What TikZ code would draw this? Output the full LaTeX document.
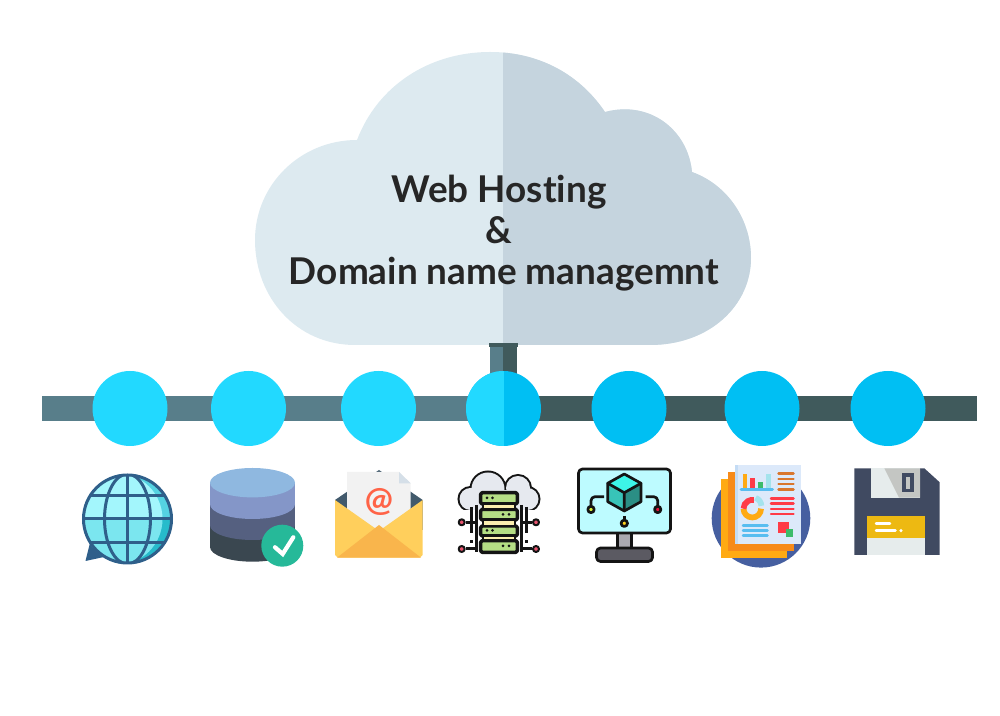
\documentclass[tikz,border=0pt]{standalone}
\usepackage{fontspec}
\setmainfont[Ligatures=NoCommon]{Lato}
\definecolor{cloudlight}{RGB}{221,234,240}
\definecolor{clouddark}{RGB}{197,212,222}
\definecolor{buslight}{RGB}{88,126,138}
\definecolor{busdark}{RGB}{64,90,92}
\definecolor{hublight}{RGB}{34,217,255}
\definecolor{hubdark}{RGB}{0,191,243}
\definecolor{ink}{RGB}{38,38,38}
\definecolor{wire}{RGB}{20,20,20}
\definecolor{globeline}{RGB}{47,95,138}
\definecolor{globehi}{RGB}{163,246,252}
\definecolor{globelo}{RGB}{123,230,239}
\definecolor{crescenthi}{RGB}{85,211,226}
\definecolor{crescentlo}{RGB}{38,187,203}
\definecolor{dbtop}{RGB}{143,184,224}
\definecolor{dbone}{RGB}{132,150,200}
\definecolor{dbtwo}{RGB}{85,96,128}
\definecolor{dbthree}{RGB}{58,71,80}
\definecolor{badge}{RGB}{38,185,153}
\definecolor{flapdark}{RGB}{66,90,108}
\definecolor{letter}{RGB}{242,242,242}
\definecolor{letterfold}{RGB}{213,223,232}
\definecolor{atred}{RGB}{255,99,71}
\definecolor{envfront}{RGB}{255,207,92}
\definecolor{envflap}{RGB}{249,181,76}
\definecolor{cloudicon}{RGB}{230,233,239}
\definecolor{rackgreen}{RGB}{181,222,133}
\definecolor{rackcream}{RGB}{251,239,176}
\definecolor{ledred}{RGB}{232,84,111}
\definecolor{screen}{RGB}{189,251,255}
\definecolor{standgrey}{RGB}{170,169,176}
\definecolor{basegrey}{RGB}{91,90,98}
\definecolor{cubetop}{RGB}{61,245,232}
\definecolor{cubeleft}{RGB}{56,196,184}
\definecolor{cuberight}{RGB}{43,143,133}
\definecolor{ledlime}{RGB}{216,240,58}
\definecolor{ledcrimson}{RGB}{232,18,58}
\definecolor{ledyellow}{RGB}{255,210,30}
\definecolor{disc}{RGB}{70,95,160}
\definecolor{sheetamber}{RGB}{255,170,19}
\definecolor{sheetorange}{RGB}{247,139,26}
\definecolor{sheetpage}{RGB}{220,233,250}
\definecolor{sheetstrip}{RGB}{196,220,245}
\definecolor{sheetblue}{RGB}{88,189,240}
\definecolor{sheetred}{RGB}{255,59,71}
\definecolor{sheetbrown}{RGB}{217,118,45}
\definecolor{sheetgreen}{RGB}{60,187,106}
\definecolor{sheetteal}{RGB}{164,227,236}
\definecolor{slate}{RGB}{64,74,97}
\definecolor{shutter}{RGB}{230,236,236}
\definecolor{shuttershade}{RGB}{196,198,195}
\definecolor{labelgold}{RGB}{237,185,18}
\usetikzlibrary{backgrounds}
\tikzset{
  hub/.style={circle, minimum size=7.5mm, inner sep=0pt, outer sep=0pt, fill=hublight},
  busline/.style={line width=2.5mm},
  titletext/.style={font=\bfseries\fontsize{10.5pt}{11.7pt}\selectfont, text=ink, inner sep=0pt, anchor=base},
  icon/.style={line width=0.27mm, draw=wire, line join=round},
  sline/.style={line width=0.42mm, line cap=round},
  gline/.style={line width=0.3mm, globeline}
}
\def\cloudpath{(355,345) .. controls (297,345) and (255,298) .. (255,240)
  .. controls (255,185) and (300,140) .. (357,140)
  .. controls (378,85) and (430,52) .. (490,52)
  .. controls (540,52) and (580,75) .. (605,112)
  .. controls (650,100) and (688,130) .. (692,172)
  .. controls (728,185) and (751,220) .. (751,258)
  .. controls (751,305) and (710,345) .. (650,345) -- cycle}
\begin{document}
\begin{tikzpicture}[x=0.1mm,y=-0.1mm]
  \useasboundingbox (0,0) rectangle (1000,716);
  % cloud
  \fill[cloudlight] \cloudpath;
  \begin{scope}
    \clip (503,0) rectangle (800,400);
    \fill[clouddark] \cloudpath;
  \end{scope}
  \node[titletext] (title1) at (499,203) {Web Hosting};
  \node[titletext] (title2) at (499,244) {\&};
  \node[titletext] (title3) at (504,285) {Domain name managemnt};
  % stem
  \fill[buslight] (490,345) rectangle (503,400);
  \fill[busdark] (503,345) rectangle (517,400);
  \fill[busdark] (489,343) rectangle (518,347);
  % hubs and bus
  \coordinate (busstart) at (42,408.5);
  \coordinate (busend) at (977,408.5);
  \node[hub] (hub1) at (130,408.5) {};
  \node[hub] (hub2) at (248.5,408.5) {};
  \node[hub] (hub3) at (378.5,408.5) {};
  \node[hub, fill=hubdark, path picture={\fill[hublight] (path picture bounding box.south west) rectangle (path picture bounding box.north);}] (hub4) at (503.5,408.5) {};
  \node[hub, fill=hubdark] (hub5) at (629,408.5) {};
  \node[hub, fill=hubdark] (hub6) at (762,408.5) {};
  \node[hub, fill=hubdark] (hub7) at (888,408.5) {};
  \begin{scope}[on background layer]
    \draw[busline, buslight] (busstart) -- (hub1.center);
    \draw[busline, buslight] (hub1.center) -- (hub2.center);
    \draw[busline, buslight] (hub2.center) -- (hub3.center);
    \draw[busline, buslight] (hub3.center) -- (hub4.center);
    \draw[busline, busdark] (hub4.center) -- (hub5.center);
    \draw[busline, busdark] (hub5.center) -- (hub6.center);
    \draw[busline, busdark] (hub6.center) -- (hub7.center);
    \draw[busline, busdark] (hub7.center) -- (busend);
  \end{scope}
  % globe
  \fill[globeline] (90,543) -- (85.5,561) -- (104,557) -- cycle;
  \begin{scope}
    \clip (127.5,519) circle (45);
    \fill[crescenthi] (80,470) rectangle (175,519);
    \fill[crescentlo] (80,519) rectangle (175,570);
    \begin{scope}
      \clip (116.5,519) circle (46);
      \fill[globehi] (70,470) rectangle (175,519);
      \fill[globelo] (70,519) rectangle (175,570);
    \end{scope}
    \draw[gline] (127.5,519) ellipse (23 and 45);
    \draw[gline] (127.5,470) -- (127.5,570);
    \draw[gline] (80,495.7) -- (175,495.7);
    \draw[gline] (80,519) -- (175,519);
    \draw[gline] (80,542.3) -- (175,542.3);
  \end{scope}
  \draw[gline] (127.5,519) circle (44);
  % database
  \fill[dbthree] (252.5,547) ellipse (42.5 and 14.7);
  \fill[dbthree] (210,525) rectangle (295,547);
  \fill[dbtwo] (252.5,525.3) ellipse (42.5 and 14.7);
  \fill[dbtwo] (210,504) rectangle (295,525.3);
  \fill[dbone] (252.5,504.3) ellipse (42.5 and 14.7);
  \fill[dbone] (210,483) rectangle (295,504.3);
  \fill[dbtop] (252.5,482.7) ellipse (42.5 and 14.7);
  \fill[badge] (282.3,545.7) circle (21);
  \draw[sline, white] (275,547.3) -- (282.7,554) -- (293.3,537.3);
  % envelope
  \fill[flapdark] (335,500) -- (379,470) -- (422.7,500) -- (422.7,530) -- (335,530) -- cycle;
  \fill[letter] (347,472) -- (399,472) -- (410.7,483.3) -- (410.7,531) -- (347,531) -- cycle;
  \fill[letterfold] (399,472) -- (410.7,483.3) -- (399,483.3) -- cycle;
  \node[font=\bfseries\fontsize{9.5pt}{10pt}\selectfont, text=atred, inner sep=0pt] (atsign) at (379,501.5) {@};
  \fill[envfront] (335,500) -- (379,531) -- (422.7,500) -- (422.7,555) -- (420,557.7) -- (338,557.7) -- (335,555) -- cycle;
  \fill[envflap] (337,557.7) -- (379,525) -- (421,557.7) -- cycle;
  % server
  \foreach \cx/\cy/\r in {470.5/499/11, 488/489/16.5, 518/488/12, 527.5/499/11}
    \draw[wire, line width=0.4mm] (\cx,\cy) circle (\r);
  \foreach \cx/\cy/\r in {470.5/499/11, 488/489/16.5, 518/488/12, 527.5/499/11}
    \fill[cloudicon] (\cx,\cy) circle (\r);
  \fill[cloudicon] (470,490) rectangle (527,510);
  \fill[white] (450,510.5) rectangle (545,555);
  \foreach \xa/\xb/\xc/\xd in {476/471/461.7/466, 521.7/526.7/536/531.7} {
    \draw[wire, line width=0.3mm] (\xa,505) -- (\xa,552);
    \draw[wire, line width=0.3mm] (\xb,507) -- (\xb,530);
    \draw[wire, line width=0.3mm, dotted] (\xb,530) -- (\xb,543);
    \draw[wire, line width=0.3mm] (\xd,522.3) -- (\xa,522.3);
    \draw[wire, line width=0.3mm] (\xd,549) -- (\xa,549);
    \draw[icon, line width=0.2mm, fill=ledred] (\xc,522.3) circle (3);
    \draw[icon, line width=0.2mm, fill=ledred] (\xc,549) circle (3);
  }
  \foreach \ya/\yb in {492.7/504, 509.3/520, 526/536, 540.7/552.3}
    \draw[icon, line width=0.35mm, fill=rackgreen, rounded corners=0.15mm] (480.7,\ya) rectangle (517.3,\yb);
  \foreach \ya/\yb in {504/509.3, 520/526, 536/540.7}
    \draw[icon, line width=0.25mm, fill=rackcream] (483,\ya) rectangle (515,\yb);
  \foreach \dx/\dy in {487/498, 492.5/498, 503/514.5, 509/514.5, 487/530.5, 492.5/530.5, 503/546, 509/546}
    \fill[wire] (\dx,\dy) circle (1.5);
  % monitor
  \draw[icon, fill=standgrey] (617.3,533) rectangle (631.7,548);
  \draw[icon, fill=basegrey, rounded corners=0.4mm] (596.5,548) rectangle (652.5,561.5);
  \draw[icon, fill=screen, rounded corners=0.4mm] (578.5,469) rectangle (670.5,533);
  \fill[cubetop] (624.3,474) -- (641,483.3) -- (624.3,492.7) -- (607.7,483.3) -- cycle;
  \fill[cubeleft] (607.7,483.3) -- (624.3,492.7) -- (624.3,511) -- (607.7,501.7) -- cycle;
  \fill[cuberight] (641,483.3) -- (624.3,492.7) -- (624.3,511) -- (641,501.7) -- cycle;
  \draw[icon, line cap=round] (624.3,474) -- (641,483.3) -- (641,501.7) -- (624.3,511) -- (607.7,501.7) -- (607.7,483.3) -- cycle;
  \draw[icon, line cap=round] (607.7,483.3) -- (624.3,492.7) -- (641,483.3) (624.3,492.7) -- (624.3,511);
  \draw[icon, rounded corners=0.4mm] (604,496.7) -- (591,496.7) -- (591,507);
  \draw[icon, rounded corners=0.4mm] (645.7,496.7) -- (657.7,496.7) -- (657.7,507);
  \draw[icon] (624.3,516) -- (624.3,520);
  \draw[icon, fill=ledlime] (591,509.5) circle (3.2);
  \draw[icon, fill=ledcrimson] (657.7,509.5) circle (3.2);
  \draw[icon, fill=ledyellow] (624.3,523.3) circle (3.2);
  % report
  \fill[disc] (761,518.3) circle (49.3);
  \fill[sheetamber] (721,479.3) rectangle (787.3,558.3);
  \fill[sheetorange] (728.3,472) rectangle (794.3,551);
  \fill[sheetpage] (734.7,464.7) rectangle (801,544);
  \fill[sheetstrip] (734.7,464.7) rectangle (738.3,544);
  \fill[sheetamber] (742.7,474) rectangle (747.3,488.3);
  \fill[sheetred] (750.3,477.7) rectangle (755,488.3);
  \fill[sheetgreen] (758.3,482.3) rectangle (763,488.3);
  \fill[sheetteal] (766,474) rectangle (770.7,488.3);
  \draw[sheetblue, line width=0.3mm, line cap=round] (741,489.3) -- (772.5,489.3);
  \foreach \y in {473.7,479,484,489.3}
    \draw[sheetbrown, line width=0.25mm, line cap=round] (778.5,\y) -- (793.5,\y);
  \foreach \y in {498.3,503.7,509,514}
    \draw[sheetred, line width=0.25mm, line cap=round] (771,\y) -- (793.5,\y);
  \foreach \y in {525.3,530.3,535.7}
    \draw[sheetblue, line width=0.25mm, line cap=round] (743,\y) -- (767.5,\y);
  \draw[sheetamber, line width=0.57mm] (761.1,508.7) arc (0:180:8.8);
  \draw[sheetred, line width=0.57mm] (743.5,508.7) arc (180:280:8.8);
  \draw[sheetteal, line width=0.57mm] (755.6,497.9) arc (290:358:8.8);
  \fill[sheetred] (778.3,521.7) rectangle (789.3,532.7);
  \fill[sheetgreen] (785.7,529) rectangle (793.3,536.7);
  % floppy
  \fill[slate] (854.3,468.3) -- (924.3,468.3) -- (939.7,482.3) -- (939.7,555) -- (854.3,555) -- cycle;
  \fill[shutter] (871,468.3) rectangle (920,497.7);
  \fill[shuttershade] (884.3,468.3) -- (920,468.3) -- (920,497.7) -- (899,497.7) -- cycle;
  \fill[slate] (902.3,473.3) rectangle (914,492.3);
  \fill[shuttershade] (906,477.3) rectangle (910,488.7);
  \fill[labelgold] (867.3,516) rectangle (925,538.3);
  \fill[shutter] (867.3,538.3) rectangle (925,555);
  \draw[white, line width=0.25mm, line cap=round] (876,523.3) -- (890,523.3);
  \draw[white, line width=0.25mm, line cap=round] (876,530.7) -- (895.5,530.7);
  \fill[white] (901,530.7) circle (1.7);
\end{tikzpicture}
\end{document}
